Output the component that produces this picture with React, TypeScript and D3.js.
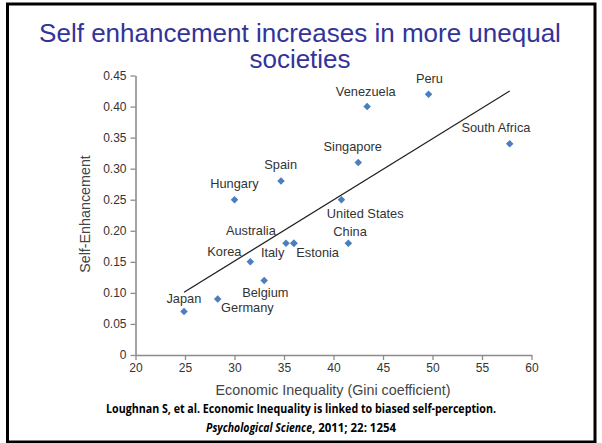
import React, { useEffect, useRef } from "react";
import * as d3 from "d3";

// ---- data ----
const countries = ["Japan", "Germany", "Korea", "Belgium", "Australia", "Italy", "Estonia", "Hungary", "Spain", "China", "United States", "Singapore", "Venezuela", "Peru", "South Africa"];
const gini = [24.9, 28.3, 31.6, 33.0, 35.2, 36.0, 36.0, 30.0, 34.7, 41.5, 40.8, 42.5, 43.4, 49.6, 57.8];
const selfEnhancement = [0.07, 0.09, 0.15, 0.12, 0.18, 0.18, 0.18, 0.25, 0.28, 0.18, 0.25, 0.31, 0.40, 0.42, 0.34];
const fitGini = [24.9, 57.8];
const fitSelfEnhancement = [0.101, 0.425];
const xTicks = [20, 25, 30, 35, 40, 45, 50, 55, 60];
const yTicks = [0, 0.05, 0.1, 0.15, 0.2, 0.25, 0.3, 0.35, 0.4, 0.45];

const titleLines = ["Self enhancement increases in more unequal", "societies"];
const xTitle = "Economic Inequality (Gini coefficient)";
const yTitle = "Self-Enhancement";
const citeLine1 = "Loughnan S, et al. Economic Inequality is linked to biased self-perception.";
const citeJournal = "Psychological Science";
const citeRest = ", 2011; 22: 1254";

// ---- label layout (pixel offsets from each point, text-anchor start) ----
const labelOffsets: [number, number][] = [
  [-17.6, -9], // Japan
  [3.4, 13.3], // Germany
  [-43, -6], // Korea
  [-22, 16.4], // Belgium
  [-60, -8.3], // Australia
  [-33, 13.4], // Italy
  [2.4, 13.4], // Estonia
  [-24.3, -11.7], // Hungary
  [-16.7, -12.3], // Spain
  [-15, -7.3], // China
  [-14.6, 18], // United States
  [-34.7, -11], // Singapore
  [-31.3, -11], // Venezuela
  [-12.6, -11], // Peru
  [-48.3, -12.3], // South Africa
];

const W = 602;
const H = 443;
const FONT = "'Liberation Sans', Arial, sans-serif";

export default function App() {
  const xAxisRef = useRef<SVGGElement>(null);
  const yAxisRef = useRef<SVGGElement>(null);

  const x = d3.scaleLinear().domain([20, 60]).range([135.5, 531.5]);
  const y = d3.scaleLinear().domain([0, 0.45]).range([355, 75.5]);

  useEffect(() => {
    const styleAxis = (g: d3.Selection<SVGGElement, unknown, null, undefined>) => {
      g.selectAll("path").attr("stroke", "#8c8c8c").attr("stroke-width", 1.6);
      g.selectAll("line").attr("stroke", "#8c8c8c").attr("stroke-width", 1.3);
      g.selectAll("text").attr("fill", "#333").style("font-family", FONT).style("font-size", "12px");
    };
    if (xAxisRef.current) {
      const g = d3.select(xAxisRef.current);
      g.call(
        d3.axisBottom(x).tickValues(xTicks).tickSize(5).tickSizeOuter(0).tickPadding(3).tickFormat(d3.format("d")) as any
      );
      styleAxis(g);
    }
    if (yAxisRef.current) {
      const g = d3.select(yAxisRef.current);
      g.call(
        d3
          .axisLeft(y)
          .tickValues(yTicks)
          .tickSize(5)
          .tickSizeOuter(0)
          .tickPadding(4)
          .tickFormat((d: any) => (d === 0 ? "0" : d3.format(".2f")(d))) as any
      );
      styleAxis(g);
    }
  }, []);

  const line = d3
    .line<number>()
    .x((_, i) => x(fitGini[i]))
    .y((_, i) => y(fitSelfEnhancement[i]));
  const diamond = d3.symbol(d3.symbolDiamond2, 36)();

  return (
    <svg
      width={W}
      height={H}
      style={{ position: "absolute", left: 0, top: 0, background: "#fff" }}
      xmlns="http://www.w3.org/2000/svg"
    >
      <rect x={0} y={0} width={W} height={H} fill="#fff" />
      <rect x={7.5} y={4} width={587.5} height={438} fill="none" stroke="#000" strokeWidth={3} />

      <text textAnchor="middle" fill="#333399" style={{ fontFamily: FONT, fontSize: 26 }}>
        {titleLines.map((t, i) => (
          <tspan key={i} x={300} y={41.5 + i * 26.5}>
            {t}
          </tspan>
        ))}
      </text>

      <g ref={xAxisRef} transform={`translate(0,${y(0)})`} />
      <g ref={yAxisRef} transform={`translate(${x(20)},0)`} />

      <text
        x={333}
        y={395}
        textAnchor="middle"
        fill="#444"
        style={{ fontFamily: FONT, fontSize: 14.3 }}
      >
        {xTitle}
      </text>
      <text
        transform={`translate(90,214) rotate(-90)`}
        textAnchor="middle"
        fill="#444"
        style={{ fontFamily: FONT, fontSize: 14.3 }}
      >
        {yTitle}
      </text>

      <path d={line(fitGini) || ""} fill="none" stroke="#222" strokeWidth={1.3} />

      {countries.map((c, i) => (
        <path key={c} d={diamond || ""} transform={`translate(${x(gini[i])},${y(selfEnhancement[i])})`} fill="#4a7ebf" />
      ))}
      {countries.map((c, i) => (
        <text
          key={c + "-l"}
          x={x(gini[i]) + labelOffsets[i][0]}
          y={y(selfEnhancement[i]) + labelOffsets[i][1]}
          fill="#333"
          style={{ fontFamily: FONT, fontSize: 12.8 }}
        >
          {c}
        </text>
      ))}

      <text
        fill="#000"
        style={{ fontFamily: "'Open Sans', sans-serif", fontSize: 12.5, fontWeight: 700 }}
      >
        <tspan x={106} y={413} textLength={390} lengthAdjust="spacingAndGlyphs">
          {citeLine1}
        </tspan>
        <tspan x={206} y={432} fontStyle="italic" textLength={106} lengthAdjust="spacingAndGlyphs">
          {citeJournal}
        </tspan>
        <tspan textLength={84} lengthAdjust="spacingAndGlyphs">{citeRest}</tspan>
      </text>
    </svg>
  );
}
